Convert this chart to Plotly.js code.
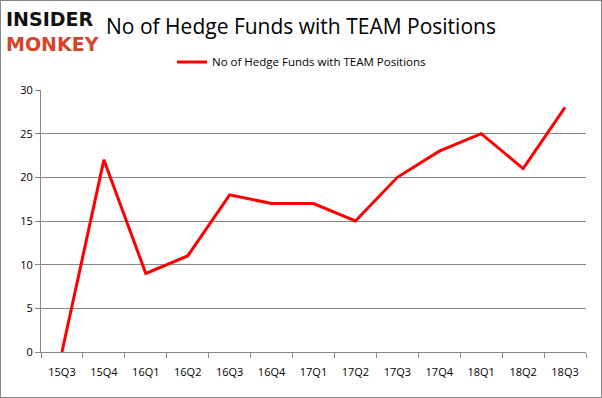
<!DOCTYPE html>
<html><head><meta charset="utf-8">
<script src="https://cdn.plot.ly/plotly-3.0.1.min.js"></script>
<style>body{margin:0;padding:0;background:#fff}#wrap{position:relative;width:602px;height:398px}#frame{position:absolute;left:0;top:0;width:600px;height:396px;border:1px solid #888;pointer-events:none}</style>
</head><body><div id="wrap"><div id="chart" style="width:602px;height:398px"></div><div id="frame"></div></div>
<script>
const quarters = ["15Q3","15Q4","16Q1","16Q2","16Q3","16Q4","17Q1","17Q2","17Q3","17Q4","18Q1","18Q2","18Q3"];
const hedgeFunds = [0,22,9,11,18,17,17,15,20,23,25,21,28];
const seriesName = "No of Hedge Funds with TEAM Positions";
const logoTop = "INSIDER";
const logoBottom = "MONKEY";

const trace = {x: quarters, y: hedgeFunds, type: "scatter", mode: "lines", name: seriesName,
  line: {color: "#ff0000", width: 3}};
const layout = {
  width: 602, height: 398,
  margin: {l: 41, r: 16, t: 90, b: 46},
  paper_bgcolor: "#fff", plot_bgcolor: "#fff",
  font: {family: "Open Sans, Liberation Sans, sans-serif", size: 11, color: "#000"},
  title: {text: seriesName, x: 0.5, xanchor: "center", y: 0.932, yanchor: "middle",
    font: {family: "Open Sans, sans-serif", size: 21, color: "#000"}},
  showlegend: true,
  legend: {orientation: "h", x: 0.478, xanchor: "center", y: 1.107, yanchor: "middle",
    font: {size: 11.5}, bgcolor: "rgba(0,0,0,0)"},
  xaxis: {type: "category", range: [-0.5, 12.5], tickson: "boundaries", ticks: "outside", ticklen: 5, tickcolor: "#888",
    showline: true, linecolor: "#888", showgrid: false, tickfont: {size: 11}, ticklabelstandoff: 10},
  yaxis: {range: [0, 30], dtick: 5, ticks: "outside", ticklen: 5, tickcolor: "#888",
    showline: true, linecolor: "#888", gridcolor: "#888", gridwidth: 1, zeroline: false, tickfont: {size: 11}},
  annotations: [
    {xref: "paper", yref: "paper", x: -37/545, xanchor: "left", y: (352 - 31)/262, yanchor: "middle",
     align: "left",
     text: "<b>" + logoTop + "</b><br><b><span style='color:#d4452c'>" + logoBottom + "</span></b>",
     showarrow: false, font: {family: "DejaVu Sans, sans-serif", size: 19, color: "#111"}}
  ]
};
Plotly.newPlot("chart", [trace], layout, {displayModeBar: false, staticPlot: true});
</script></body></html>
